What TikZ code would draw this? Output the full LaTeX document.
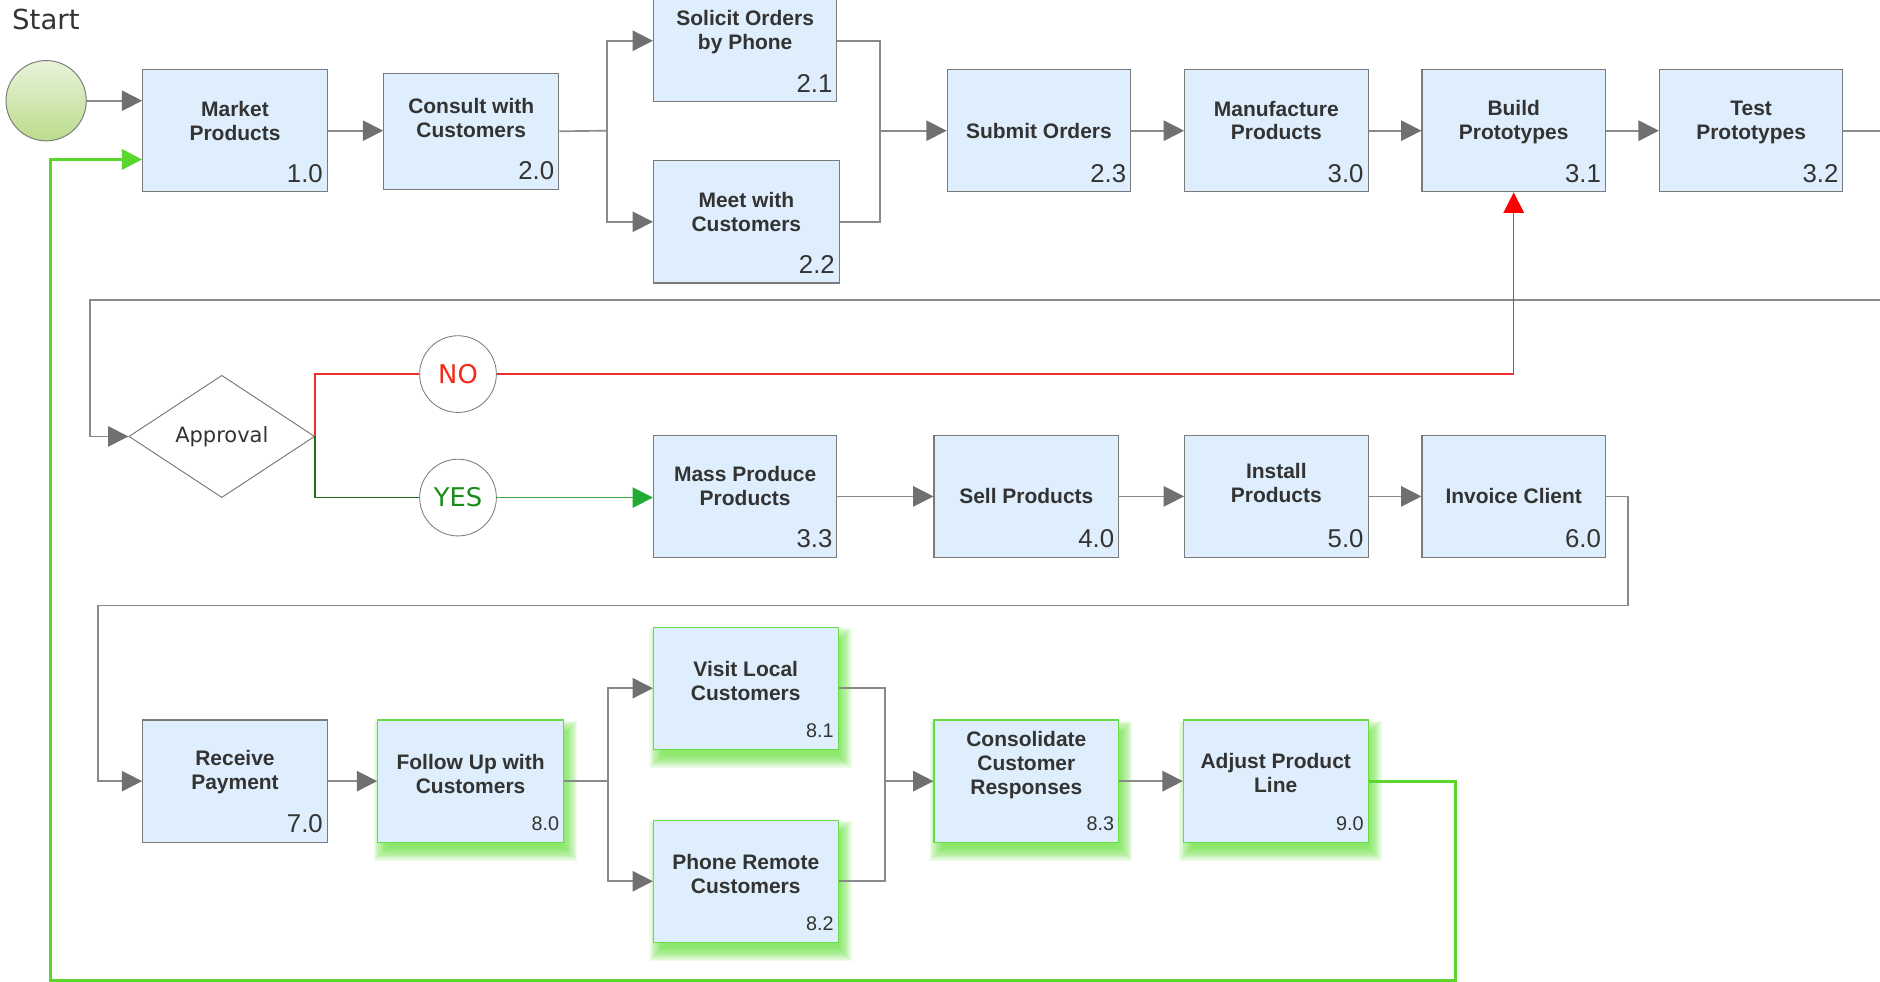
\documentclass[tikz,border=0pt]{standalone}
\usepackage{fontspec}
\setmainfont{Liberation Sans}
\newfontfamily\dejavu{DejaVu Sans}
\usetikzlibrary{arrows.meta,shapes.geometric,calc}
\pgfdeclarelayer{bg}
\pgfsetlayers{bg,main}
\definecolor{boxfill}{RGB}{222,238,252}
\definecolor{boxline}{RGB}{122,122,122}
\definecolor{glowline}{RGB}{102,221,68}
\definecolor{glow}{RGB}{96,222,52}
\definecolor{lnk}{RGB}{138,138,138}
\definecolor{tipgray}{RGB}{112,112,112}
\definecolor{txt}{RGB}{51,51,51}
\definecolor{nored}{RGB}{245,40,25}
\definecolor{redline}{RGB}{240,45,45}
\definecolor{yesgreen}{RGB}{26,140,26}
\definecolor{darkgline}{RGB}{30,110,30}
\definecolor{yesline}{RGB}{60,170,60}
\definecolor{yestip}{RGB}{34,170,50}
\definecolor{loopgreen}{RGB}{90,215,45}
\definecolor{circtop}{RGB}{232,243,218}
\definecolor{circbot}{RGB}{187,220,140}
\newcommand{\glowfor}[1]{%
  \begin{pgfonlayer}{bg}
  \foreach \r in {-4,...,7}{%
    \fill[glow, opacity=0.1]
      ($(#1.north west)+(4-\r,8-\r)$) rectangle ($(#1.south east)+(4+\r,8+\r)$);
  }
  \end{pgfonlayer}}
\begin{document}
\begin{tikzpicture}[x=1pt,y=-1pt,
  box/.style={rectangle, draw=boxline, line width=0.9pt, fill=boxfill,
    minimum width=154pt, minimum height=102pt, inner sep=0pt},
  gbox/.style={box, draw=glowline},
  lbl/.style={font=\fontsize{17.5}{20}\selectfont\bfseries, text=txt, align=center, inner sep=0pt},
  num/.style={font=\fontsize{21.5}{22}\selectfont, text=txt, anchor=east, inner sep=0pt},
  snum/.style={num, font=\fontsize{16.5}{18}\selectfont},
  gl/.style={draw=lnk, line width=1.4pt},
  ga/.style={gl, -{Triangle[length=17pt,width=17pt,color=tipgray]}},
  redl/.style={draw=redline, line width=1.2pt},
  loopl/.style={draw=loopgreen, line width=2.4pt, -{Triangle[length=17pt,width=17pt]}},
  decision/.style={circle, draw=boxline, line width=0.7pt, fill=white, minimum size=64pt, inner sep=0pt}
]
\useasboundingbox (0,0) rectangle (1568,819);
\clip (0,0) rectangle (1568,819);

% start
\node[font=\dejavu\fontsize{23}{24}\selectfont, text=txt, anchor=west, inner sep=0pt] (sttxt) at (10,16) {Start};
\node[circle, draw=boxline, line width=0.8pt, top color=circtop, bottom color=circbot, minimum size=67pt, inner sep=0pt] (start) at (38.5,84) {};

% row 1 boxes
\node[box] (m10) at (196,109) {};
\node[box, minimum width=146pt, minimum height=97pt] (m20) at (393,109.5) {};
\node[box, minimum width=153pt] (m21) at (621.5,34) {};
\node[box, minimum width=155pt] (m22) at (622.5,185) {};
\node[box, minimum width=153pt] (m23) at (866.5,109) {};
\node[box, minimum width=153pt] (m30) at (1064.5,109) {};
\node[box, minimum width=153pt] (m31) at (1262.5,109) {};
\node[box, minimum width=153pt] (m32) at (1460.5,109) {};

% row 2
\node[diamond, draw=boxline, line width=0.8pt, fill=white, minimum width=155pt, minimum height=102pt, inner sep=0pt,
  font=\dejavu\fontsize{17.5}{18}\selectfont, text=txt] (appr) at (185,364) {Approval};
\node[decision, font=\dejavu\fontsize{21.5}{22}\selectfont, text=nored] (no) at (382,312) {NO};
\node[decision, font=\dejavu\fontsize{21.5}{22}\selectfont, text=yesgreen] (yes) at (382,415) {YES};
\node[box, minimum width=153pt] (m33) at (621.5,414) {};
\node[box] (m40) at (856,414) {};
\node[box, minimum width=153pt] (m50) at (1064.5,414) {};
\node[box, minimum width=153pt] (m60) at (1262.5,414) {};

% row 3
\node[box] (m70) at (196,651.5) {};
\node[gbox, minimum width=155pt] (m80) at (392.5,651.5) {};
\node[gbox] (m81) at (622,574) {};
\node[gbox] (m82) at (622,735) {};
\node[gbox] (m83) at (856,651.5) {};
\node[gbox] (m90) at (1064,651.5) {};

\glowfor{m80}
\glowfor{m81}
\glowfor{m82}
\glowfor{m83}
\glowfor{m90}

% labels
\node[lbl] (t10) at ($(m10)+(0,-8)$) {Market\\Products};
\node[lbl] (t20) at ($(m20)+(0,-11)$) {Consult with\\Customers};
\node[lbl] (t21) at ($(m21)+(0,-7)$) {Solicit Orders\\by Phone};
\node[lbl] (t22) at ($(m22)+(0,-8)$) {Meet with\\Customers};
\node[lbl] (t23) at ($(m23)+(0,0)$) {Submit Orders};
\node[lbl] (t30) at ($(m30)+(0,-8.5)$) {Manufacture\\Products};
\node[lbl] (t31) at ($(m31)+(0,-7)$) {Build\\Prototypes};
\node[lbl] (t32) at ($(m32)+(0,-7)$) {Test\\Prototypes};
\node[lbl] (t33) at ($(m33)+(0,-9)$) {Mass Produce\\Products};
\node[lbl] (t40) at ($(m40)+(0,0)$) {Sell Products};
\node[lbl] (t50) at ($(m50)+(0,-11)$) {Install\\Products};
\node[lbl] (t60) at ($(m60)+(0,0)$) {Invoice Client};
\node[lbl] (t70) at ($(m70)+(0,-7.5)$) {Receive\\Payment};
\node[lbl] (t80) at ($(m80)+(0,-6)$) {Follow Up with\\Customers};
\node[lbl] (t81) at ($(m81)+(0,-6)$) {Visit Local\\Customers};
\node[lbl] (t82) at ($(m82)+(0,-6)$) {Phone Remote\\Customers};
\node[lbl] (t83) at ($(m83)+(0,-13.5)$) {Consolidate\\Customer\\Responses};
\node[lbl] (t90) at ($(m90)+(0,-6.5)$) {Adjust Product\\Line};

% numbers
\node[num] (n10) at ($(m10.south east)+(-4,-16)$) {1.0};
\node[num] (n20) at ($(m20.south east)+(-4,-16)$) {2.0};
\node[num] (n21) at ($(m21.south east)+(-4,-16)$) {2.1};
\node[num] (n22) at ($(m22.south east)+(-4,-16)$) {2.2};
\node[num] (n23) at ($(m23.south east)+(-4,-16)$) {2.3};
\node[num] (n30) at ($(m30.south east)+(-4,-16)$) {3.0};
\node[num] (n31) at ($(m31.south east)+(-4,-16)$) {3.1};
\node[num] (n32) at ($(m32.south east)+(-4,-16)$) {3.2};
\node[num] (n33) at ($(m33.south east)+(-4,-16)$) {3.3};
\node[num] (n40) at ($(m40.south east)+(-4,-16)$) {4.0};
\node[num] (n50) at ($(m50.south east)+(-4,-16)$) {5.0};
\node[num] (n60) at ($(m60.south east)+(-4,-16)$) {6.0};
\node[num] (n70) at ($(m70.south east)+(-4,-16)$) {7.0};
\node[snum] (n80) at ($(m80.south east)+(-4,-16)$) {8.0};
\node[snum] (n81) at ($(m81.south east)+(-4,-16)$) {8.1};
\node[snum] (n82) at ($(m82.south east)+(-4,-16)$) {8.2};
\node[snum] (n83) at ($(m83.south east)+(-4,-16)$) {8.3};
\node[snum] (n90) at ($(m90.south east)+(-4,-16)$) {9.0};

% coordinates
\coordinate (s1) at (506,109);
\coordinate (j1) at (734,109);
\coordinate (e1) at (1580,109);
\coordinate (e2) at (1580,250);
\coordinate (r1) at (75,250);
\coordinate (c1) at (1358,505);
\coordinate (c2) at (82,505);
\coordinate (s3) at (507,651.5);
\coordinate (j3) at (738,651.5);
\coordinate (g1) at (1214,818);
\coordinate (g2) at (42,818);

% connectors row 1
\draw[ga] (start.east) -- (start.east -| m10.west);
\draw[ga] (m10.east) -- (m10.east -| m20.west);
\draw[gl] (m20.east) -- (s1);
\draw[ga] (s1) |- (m21.west);
\draw[ga] (s1) |- (m22.west);
\draw[gl] (m21.east) -| (j1);
\draw[gl] (m22.east) -| (j1);
\draw[ga] (j1) -- (m23.west);
\draw[ga] (m23.east) -- (m30.west);
\draw[ga] (m30.east) -- (m31.west);
\draw[ga] (m31.east) -- (m32.west);
\draw[gl] (m32.east) -- (e1);
\draw[ga] (e2) -- (r1) |- (appr.west);

% decision
\draw[redl] (appr.east) |- (no.west);
\draw[redl, -{Triangle[length=17pt,width=17pt,color=red]}] (no.east) -| (m31.south);
\draw[draw=darkgline, line width=1.2pt] (appr.east) |- (yes.west);
\draw[draw=yesline, line width=1.4pt, -{Triangle[length=17pt,width=17pt,color=yestip]}] (yes.east) -- (yes.east -| m33.west);

% row 2
\draw[ga] (m33.east) -- (m40.west);
\draw[ga] (m40.east) -- (m50.west);
\draw[ga] (m50.east) -- (m60.west);
\draw[ga] (m60.east) -| (c1) -- (c2) |- (m70.west);

% row 3
\draw[ga] (m70.east) -- (m80.west);
\draw[gl] (m80.east) -- (s3);
\draw[ga] (s3) |- (m81.west);
\draw[ga] (s3) |- (m82.west);
\draw[gl] (m81.east) -| (j3);
\draw[gl] (m82.east) -| (j3);
\draw[ga] (j3) -- (m83.west);
\draw[ga] (m83.east) -- (m90.west);

% feedback loop
\draw[loopl] (m90.east) -| (g1) -- (g2) |- ($(m10.west)+(0,24)$);
\end{tikzpicture}
\end{document}
